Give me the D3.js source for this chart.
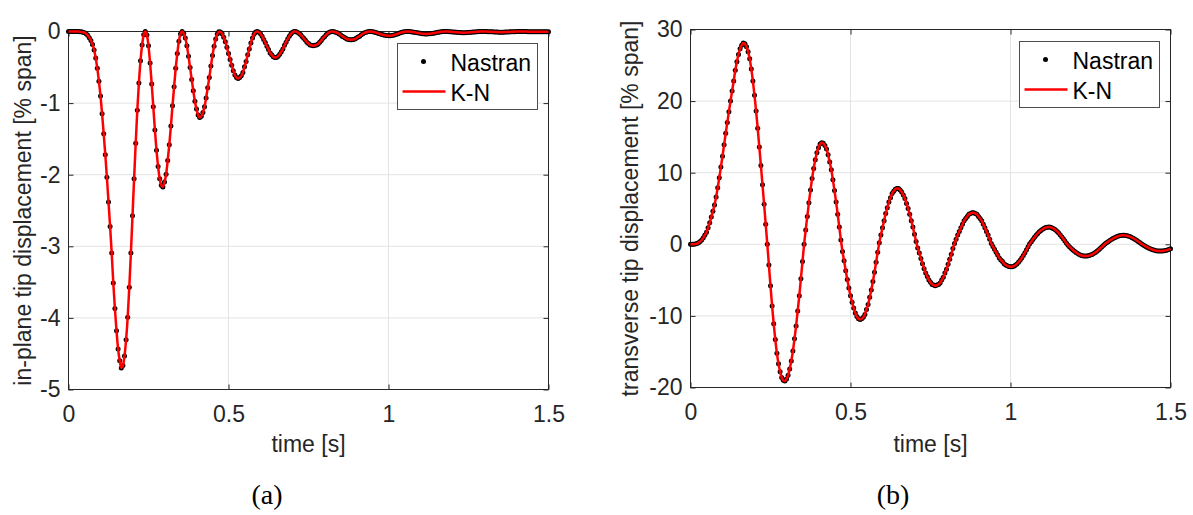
<!DOCTYPE html>
<html>
<head>
<meta charset="utf-8">
<script src="https://cdn.jsdelivr.net/npm/d3@7"></script>
<style>
  body { margin: 0; background: #fff; }
</style>
</head>
<body>
<div id="vis"></div>
<script>
const WIDTH = 1193;
const HEIGHT = 515;
const SANS = "'Liberation Sans', Arial, Helvetica, sans-serif";
const SERIF = "'Liberation Serif', 'Times New Roman', serif";

// sample step of the Nastran time history [s]
const TIME_STEP = 0.005;

const X_TICKS = [0, 0.5, 1, 1.5];
const IN_PLANE_TICKS = [-5, -4, -3, -2, -1, 0];
const TRANSVERSE_TICKS = [-20, -10, 0, 10, 20, 30];

// transverse tip displacement [% span], t = 0 ... 1.5 s
const transverseNastran = [
  0, 0, 0, 0.05, 0.1, 0.2, 0.4, 0.6, 0.9, 1.3,
  1.7, 2.3, 3.0, 3.8, 4.6, 5.5, 6.6, 7.9, 9.3, 10.8,
  12.3, 13.9, 15.5, 17.0, 18.5, 20.0, 21.4, 22.8, 24.3, 25.5,
  26.5, 27.3, 27.8, 28.1, 28.0, 27.6, 26.9, 25.9, 24.5, 22.8,
  20.8, 18.6, 16.2, 13.6, 11.0, 8.3, 5.6, 2.8, 0.0, -2.9,
  -5.8, -8.6, -11.1, -13.3, -15.2, -16.7, -17.8, -18.6, -19.0, -19.1,
  -18.8, -18.3, -17.4, -16.3, -14.9, -13.2, -11.4, -9.3, -7.2, -4.8,
  -2.4, 0, 2.0, 3.9, 5.8, 7.6, 9.2, 10.6, 11.8, 12.8,
  13.5, 14.0, 14.2, 14.1, 13.8, 13.3, 12.5, 11.5, 10.4, 9.0,
  7.5, 5.9, 4.2, 2.4, 0.6, -1.0, -2.3, -3.7, -4.9, -6.1,
  -7.2, -8.1, -8.9, -9.6, -10.1, -10.4, -10.5, -10.4, -10.2, -9.8,
  -9.1, -8.4, -7.4, -6.4, -5.2, -3.9, -2.5, -1.1, 0.2, 1.3,
  2.3, 3.3, 4.3, 5.1, 5.9, 6.5, 7.1, 7.4, 7.7, 7.8,
  7.8, 7.6, 7.3, 6.9, 6.4, 5.7, 5.0, 4.2, 3.3, 2.4,
  1.4, 0.4, -0.5, -1.2, -2.0, -2.7, -3.4, -4.0, -4.5, -5.0,
  -5.3, -5.6, -5.7, -5.8, -5.7, -5.6, -5.4, -5.0, -4.6, -4.0,
  -3.5, -2.8, -2.1, -1.4, -0.6, 0.1, 0.7, 1.3, 1.8, 2.3,
  2.8, 3.3, 3.6, 3.9, 4.2, 4.3, 4.4, 4.4, 4.3, 4.2,
  3.9, 3.6, 3.3, 2.8, 2.3, 1.8, 1.3, 0.7, 0.1, -0.3,
  -0.7, -1.1, -1.5, -1.9, -2.2, -2.4, -2.7, -2.9, -3.0, -3.1,
  -3.15, -3.13, -3.06, -2.93, -2.74, -2.51, -2.23, -1.91, -1.55, -1.17,
  -0.76, -0.34, 0.06, 0.37, 0.68, 0.98, 1.25, 1.51, 1.74, 1.94,
  2.11, 2.24, 2.33, 2.39, 2.40, 2.37, 2.29, 2.18, 2.02, 1.83,
  1.60, 1.35, 1.07, 0.77, 0.45, 0.13, -0.14, -0.36, -0.58, -0.79,
  -0.98, -1.15, -1.30, -1.43, -1.53, -1.60, -1.64, -1.65, -1.63, -1.58,
  -1.51, -1.41, -1.28, -1.14, -0.97, -0.79, -0.59, -0.38, -0.17, 0.03,
  0.20, 0.36, 0.52, 0.66, 0.80, 0.92, 1.02, 1.11, 1.18, 1.22,
  1.25, 1.25, 1.23, 1.19, 1.12, 1.04, 0.93, 0.81, 0.67, 0.52,
  0.37, 0.20, 0.04, -0.10, -0.23, -0.36, -0.48, -0.58, -0.68, -0.77,
  -0.84, -0.89, -0.93, -0.95, -0.95, -0.93, -0.90, -0.85, -0.79, -0.71,
  -0.61
];

// in-plane tip displacement [% span], same time base
const inPlaneNastran = [
  0, 0, 0, 0, 0, 0, -0.001, -0.002, -0.005, -0.010,
  -0.017, -0.031, -0.054, -0.086, -0.126, -0.180, -0.259, -0.371, -0.515, -0.694,
  -0.900, -1.150, -1.429, -1.720, -2.036, -2.380, -2.725, -3.093, -3.513, -3.869,
  -4.178, -4.434, -4.598, -4.698, -4.665, -4.532, -4.305, -3.991, -3.571, -3.093,
  -2.574, -2.058, -1.562, -1.101, -0.720, -0.410, -0.187, -0.047, 0, -0.050,
  -0.200, -0.440, -0.733, -1.052, -1.375, -1.659, -1.885, -2.058, -2.148, -2.171,
  -2.103, -1.993, -1.801, -1.581, -1.321, -1.037, -0.773, -0.515, -0.308, -0.137,
  -0.034, 0, -0.024, -0.090, -0.200, -0.344, -0.504, -0.669, -0.828, -0.975,
  -1.084, -1.166, -1.200, -1.183, -1.133, -1.052, -0.930, -0.787, -0.644, -0.482,
  -0.335, -0.207, -0.105, -0.034, -0.002, -0.006, -0.031, -0.081, -0.143, -0.221,
  -0.308, -0.390, -0.471, -0.548, -0.607, -0.644, -0.656, -0.644, -0.619, -0.571,
  -0.493, -0.420, -0.326, -0.244, -0.161, -0.090, -0.037, -0.007, 0, -0.010,
  -0.031, -0.065, -0.110, -0.155, -0.207, -0.251, -0.300, -0.326, -0.353, -0.362,
  -0.362, -0.344, -0.317, -0.283, -0.244, -0.193, -0.149, -0.105, -0.065, -0.034,
  -0.012, -0.001, -0.001, -0.009, -0.024, -0.043, -0.069, -0.095, -0.120, -0.149,
  -0.167, -0.187, -0.193, -0.200, -0.193, -0.187, -0.173, -0.149, -0.126, -0.095,
  -0.073, -0.047, -0.026, -0.012, -0.002, 0, -0.003, -0.010, -0.019, -0.031,
  -0.047, -0.065, -0.077, -0.090, -0.105, -0.110, -0.115, -0.115, -0.110, -0.105,
  -0.090, -0.077, -0.065, -0.047, -0.031, -0.019, -0.010, -0.003, 0, -0.001,
  -0.003, -0.007, -0.013, -0.021, -0.029, -0.034, -0.043, -0.050, -0.054, -0.057,
  -0.059, -0.058, -0.056, -0.051, -0.045, -0.037, -0.030, -0.022, -0.014, -0.008,
  -0.003, -0.001, 0, -0.001, -0.003, -0.006, -0.009, -0.014, -0.018, -0.022,
  -0.026, -0.030, -0.032, -0.034, -0.034, -0.033, -0.031, -0.028, -0.024, -0.020,
  -0.015, -0.011, -0.007, -0.004, -0.001, 0, 0, -0.001, -0.002, -0.004,
  -0.006, -0.008, -0.010, -0.012, -0.014, -0.015, -0.016, -0.016, -0.016, -0.015,
  -0.014, -0.012, -0.010, -0.008, -0.006, -0.004, -0.002, -0.001, 0, 0,
  0, -0.001, -0.002, -0.003, -0.004, -0.005, -0.006, -0.007, -0.008, -0.009,
  -0.009, -0.009, -0.009, -0.008, -0.007, -0.006, -0.005, -0.004, -0.003, -0.002,
  -0.001, 0, 0, 0, 0, -0.001, -0.001, -0.002, -0.003, -0.004,
  -0.004, -0.005, -0.005, -0.005, -0.005, -0.005, -0.005, -0.004, -0.004, -0.003,
  -0.002
];

// the K-N solution lies on top of the Nastran points
const transverseKN = transverseNastran;
const inPlaneKN = inPlaneNastran;

const time = d3.range(transverseNastran.length).map(i => i * TIME_STEP);

const SVG = d3.select("#vis")
  .append("svg")
    .attr("width", WIDTH)
    .attr("height", HEIGHT);

SVG.append("rect")
    .attr("width", WIDTH)
    .attr("height", HEIGHT)
    .attr("fill", "#fff");

const panels = [
  {left: 68.5, right: 548.5, top: 31.5, bottom: 389.5,
   nastran: inPlaneNastran, kn: inPlaneKN, yDomain: [-5, 0], yTicks: IN_PLANE_TICKS,
   yLabel: "in-plane tip displacement [% span]", yLabelX: 31, caption: "(a)", captionX: 267},
  {left: 690.5, right: 1170.5, top: 29.5, bottom: 387.5,
   nastran: transverseNastran, kn: transverseKN, yDomain: [-20, 30], yTicks: TRANSVERSE_TICKS,
   yLabel: "transverse tip displacement [% span]", yLabelX: 638, caption: "(b)", captionX: 893}
];

const fmt = d => String(d).replace("\u2212", "-");

panels.forEach(p => {
  const x = d3.scaleLinear().domain([0, 1.5]).range([p.left, p.right]);
  const y = d3.scaleLinear().domain(p.yDomain).range([p.bottom, p.top]);
  const g = SVG.append("g");

  // grid
  g.append("g").selectAll("line")
    .data(X_TICKS.slice(1, -1))
    .enter().append("line")
      .attr("x1", d => x(d)).attr("x2", d => x(d))
      .attr("y1", p.top).attr("y2", p.bottom)
      .attr("stroke", "#e3e3e3");
  g.append("g").selectAll("line")
    .data(p.yTicks.slice(1, -1))
    .enter().append("line")
      .attr("x1", p.left).attr("x2", p.right)
      .attr("y1", d => y(d)).attr("y2", d => y(d))
      .attr("stroke", "#e3e3e3");

  // axes (ticks point inwards, box on)
  const axes = [
    [d3.axisBottom(x).tickValues(X_TICKS).tickPadding(16).tickFormat(fmt), "translate(0," + p.bottom + ")"],
    [d3.axisTop(x).tickValues(X_TICKS).tickFormat(""), "translate(0," + p.top + ")"],
    [d3.axisLeft(y).tickValues(p.yTicks).tickPadding(8).tickFormat(fmt), "translate(" + p.left + ",0)"],
    [d3.axisRight(y).tickValues(p.yTicks).tickFormat(""), "translate(" + p.right + ",0)"]
  ];
  axes.forEach(([ax, tr]) => {
    const a = g.append("g")
      .attr("transform", tr)
      .call(ax.tickSize(-5).tickSizeOuter(0));
    a.select(".domain").remove();
    a.selectAll("line").attr("stroke", "#262626");
    a.selectAll("text")
      .style("font-size", "23px")
      .style("font-family", SANS)
      .attr("fill", "#262626");
  });

  g.append("rect")
    .attr("x", p.left).attr("y", p.top)
    .attr("width", p.right - p.left).attr("height", p.bottom - p.top)
    .attr("fill", "none")
    .attr("stroke", "#262626");

  // Nastran points
  g.append("g").selectAll("circle")
    .data(p.nastran)
    .enter().append("circle")
      .attr("cx", (d, i) => x(time[i]))
      .attr("cy", d => y(d))
      .attr("r", 2.5)
      .attr("fill", "#000");

  // K-N line
  const line = d3.line()
    .x((d, i) => x(time[i]))
    .y(d => y(d))
    .curve(d3.curveMonotoneX);
  g.append("path")
    .datum(p.kn)
    .attr("d", line)
    .attr("fill", "none")
    .attr("stroke", "#ff0000")
    .attr("stroke-width", 2.5);

  // axis labels
  g.append("text")
    .attr("x", (p.left + p.right) / 2)
    .attr("y", 452)
    .attr("text-anchor", "middle")
    .style("font-size", "23px")
    .style("font-family", SANS)
    .attr("fill", "#262626")
    .text("time [s]");
  g.append("text")
    .attr("transform", "translate(" + p.yLabelX + "," + ((p.top + p.bottom) / 2) + ") rotate(-90)")
    .attr("text-anchor", "middle")
    .style("font-size", "23px")
    .style("font-family", SANS)
    .attr("fill", "#262626")
    .text(p.yLabel);

  // caption
  g.append("text")
    .attr("x", p.captionX)
    .attr("y", 504)
    .attr("text-anchor", "middle")
    .style("font-size", "28px")
    .style("font-family", SERIF)
    .attr("fill", "#000")
    .text(p.caption);

  // legend
  const lx = p.right - 11 - 140;
  const ly = p.top + 12;
  const leg = g.append("g").attr("transform", "translate(" + lx + "," + ly + ")");
  leg.append("rect")
    .attr("width", 140).attr("height", 66)
    .attr("fill", "#fff")
    .attr("stroke", "#4d4d4d");
  leg.append("circle")
    .attr("cx", 26).attr("cy", 18).attr("r", 2.5).attr("fill", "#000");
  leg.append("line")
    .attr("x1", 5).attr("x2", 48).attr("y1", 48).attr("y2", 48)
    .attr("stroke", "#ff0000").attr("stroke-width", 2.5);
  leg.append("text")
    .attr("x", 53).attr("y", 27)
    .style("font-size", "23px")
    .style("font-family", SANS)
    .attr("fill", "#000")
    .text("Nastran");
  leg.append("text")
    .attr("x", 53).attr("y", 57)
    .style("font-size", "23px")
    .style("font-family", SANS)
    .attr("fill", "#000")
    .text("K-N");
});
</script>
</body>
</html>
